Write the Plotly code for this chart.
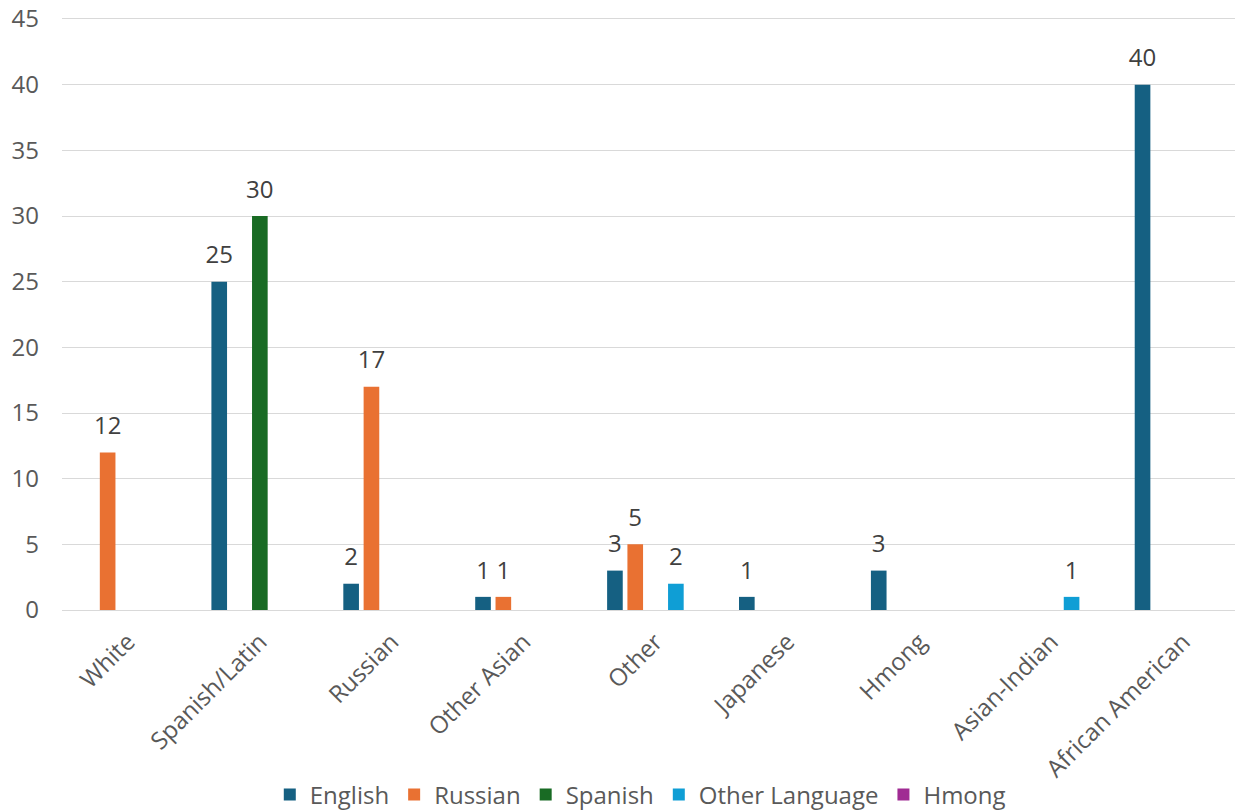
import plotly.graph_objects as go

categories = ["White", "Spanish/Latin", "Russian", "Other Asian", "Other",
              "Japanese", "Hmong", "Asian-Indian", "African American"]
series_names = ["English", "Russian", "Spanish", "Other Language", "Hmong"]
english = [None, 25, 2, 1, 3, 1, 3, None, 40]
russian = [12, None, 17, 1, 5, None, None, None, None]
spanish = [None, 30, None, None, None, None, None, None, None]
other_language = [None, None, None, None, 2, None, None, 1, None]
hmong = [None, None, None, None, None, None, None, None, None]
y_ticks = [0, 5, 10, 15, 20, 25, 30, 35, 40, 45]

series_values = [english, russian, spanish, other_language, hmong]
colors = ["#156082", "#E97132", "#196B24", "#0F9ED5", "#A02B93"]

FONT = "Open Sans, Roboto, DejaVu Sans, sans-serif"
BARGAP = 0.23
BARGROUPGAP = 0.23

idx = list(range(len(categories)))
n_series = len(series_names)
slot = (1 - BARGAP) / n_series

fig = go.Figure()
for name, vals, col in zip(series_names, series_values, colors):
    fig.add_trace(go.Bar(
        name=name, x=idx, y=vals, marker=dict(color=col, line=dict(width=0)),
        customdata=categories, hovertemplate="%{customdata}: %{y}<extra>" + name + "</extra>",
    ))

# data labels placed at the centre of each bar's slot in the group
for k, vals in enumerate(series_values):
    xs = [i + (k - (n_series - 1) / 2) * slot for i in idx]
    fig.add_trace(go.Scatter(
        x=xs, y=vals, mode="markers+text",
        text=[("" if v is None else str(v)) for v in vals],
        textposition="top center",
        textfont=dict(family=FONT, size=24, color="#404040"),
        marker=dict(size=18, opacity=0, color="rgba(0,0,0,0)"),
        showlegend=False, hoverinfo="skip", cliponaxis=False,
    ))

fig.update_layout(
    width=1235, height=811,
    margin=dict(l=62, r=0, t=16, b=201),
    paper_bgcolor="white", plot_bgcolor="white",
    barmode="group", bargap=BARGAP, bargroupgap=BARGROUPGAP,
    font=dict(family=FONT, color="#595959"),
    legend=dict(orientation="h", x=0.493, xanchor="center",
                yref="container", y=0.02, yanchor="middle",
                font=dict(family=FONT, size=24, color="#595959"),
                traceorder="normal"),
    xaxis=dict(range=[-0.5, 8.393], tickvals=idx, ticktext=categories, tickangle=-45,
               showgrid=False, showline=False, zeroline=False, ticks="",
               automargin=False, ticklabelstandoff=12,
               tickfont=dict(family=FONT, size=24, color="#595959")),
    yaxis=dict(range=[0, 45.228], tickvals=y_ticks, showgrid=True, gridcolor="#d9d9d9",
               gridwidth=1, zeroline=True, zerolinecolor="#d9d9d9", zerolinewidth=1,
               showline=False, ticks="", ticklabelstandoff=22, automargin=False,
               tickfont=dict(family=FONT, size=24, color="#595959")),
)

fig.write_html("out.html", config={"displayModeBar": False})

# remove the browser's default page margin so the figure sits at the window origin
with open("out.html", "r", encoding="utf-8") as f:
    html = f.read()
html = html.replace("<head>", "<head><style>html,body{margin:0;padding:0;overflow:hidden;}</style>", 1)
with open("out.html", "w", encoding="utf-8") as f:
    f.write(html)
